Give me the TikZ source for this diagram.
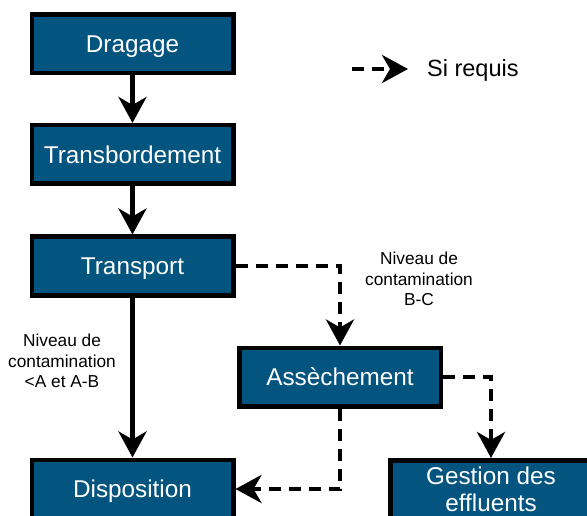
\documentclass[tikz,border=0pt]{standalone}
\usepackage{fontspec}
\setmainfont{Liberation Sans}
\usetikzlibrary{arrows.meta}
\definecolor{boxblue}{RGB}{3,84,127}
\begin{document}
\begin{tikzpicture}[x=1pt,y=-1pt,
  boxbase/.style={draw=black, line width=4.5pt, fill=boxblue, text=white,
    font=\fontsize{24.3}{27}\selectfont, minimum width=201.5pt,
    minimum height=58.5pt, inner sep=0pt, align=center},
  box/.style={boxbase, text height=17.4pt, text depth=0pt},
  solidarrow/.style={line width=4.5pt, -{Stealth[length=26pt,width=28pt,inset=8pt]}},
  dasharrow/.style={solidarrow, dash pattern=on 12pt off 8pt},
  lbl/.style={font=\fontsize{17.3}{20.5}\selectfont, align=center}]
\useasboundingbox (0,0) rectangle (587,516);
\clip (0,0) rectangle (587,516);

\node[box] (drag) at (132.5,44) {Dragage};
\node[box] (trans) at (132.5,154.5) {Transbordement};
\node[box] (transp) at (132.5,266) {Transport};
\node[box] (ass) at (340,377) {Assèchement};
\node[box] (disp) at (132.5,489) {Disposition};
\node[boxbase] (gest) at (491,489.5) {Gestion des\\effluents};

\draw[solidarrow] (drag) -- (trans);
\draw[solidarrow] (trans) -- (transp);
\draw[solidarrow] (transp) -- (disp);
\draw[dasharrow] (transp.east) -| (ass.north);
\draw[dasharrow] (ass.east) -| (gest.north);
\draw[dasharrow] (ass.south) |- (disp.east);

\node[lbl] (lblbc) at (419,279) {Niveau de\\contamination\\B-C};
\node[lbl] (lblab) at (62,361) {Niveau de\\contamination\\<A et A-B};

\coordinate (legs) at (352,69);
\coordinate (lege) at (408,69);
\draw[dasharrow] (legs) -- (lege);
\node[anchor=west, inner sep=0pt, font=\fontsize{23.5}{27}\selectfont] (legtxt) at (427,70) {Si requis};
\end{tikzpicture}
\end{document}
